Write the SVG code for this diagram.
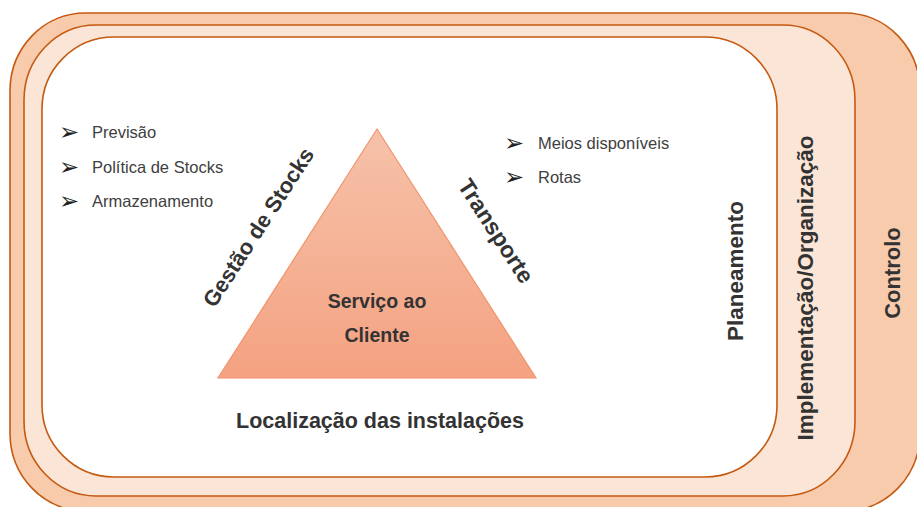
<svg xmlns="http://www.w3.org/2000/svg" width="917" height="507" viewBox="0 0 917 507">
  <defs>
    <linearGradient id="triGrad" x1="0" y1="0" x2="0" y2="1">
      <stop offset="0" stop-color="#F6C2AA"/>
      <stop offset="1" stop-color="#F4A281"/>
    </linearGradient>
    <style>
      .layer { stroke: #C55A11; stroke-width: 1.6; }
      .bold { font-family: "Liberation Sans", Arial, sans-serif; font-weight: bold; fill: #333333; }
      .item { font-family: "Liberation Sans", Arial, sans-serif; font-size: 16.5px; fill: #404040; }
      .bullet { font-family: "DejaVu Sans", sans-serif; font-size: 24px; fill: #222222; }
    </style>
  </defs>

  <g id="controlo">
    <rect class="layer" x="10" y="13" width="910" height="498" rx="75" ry="78" fill="#F8CBAD"/>
    <text class="bold" font-size="22" text-anchor="middle" transform="translate(892,273) rotate(-90)" y="8">Controlo</text>
  </g>

  <g id="implementacao">
    <rect class="layer" x="24" y="25" width="831" height="471" rx="72" ry="75" fill="#FBE5D6"/>
    <text class="bold" font-size="22.5" text-anchor="middle" transform="translate(805,288) rotate(-90)" y="8">Implementação/Organização</text>
  </g>

  <g id="planeamento">
    <rect class="layer" x="42" y="37" width="735" height="440" rx="72" ry="72" fill="#FFFFFF"/>
    <text class="bold" font-size="22.5" text-anchor="middle" transform="translate(735,271) rotate(-90)" y="8">Planeamento</text>
  </g>

  <g id="triangulo">
    <polygon points="377,129 536,378 218,378" fill="url(#triGrad)" stroke="#F0946C" stroke-width="1.2"/>
    <text class="bold" font-size="19.5" text-anchor="middle" x="377" y="308">Serviço ao</text>
    <text class="bold" font-size="19.5" text-anchor="middle" x="377" y="342">Cliente</text>
  </g>

  <g id="gestao-stocks">
    <text class="bold" font-size="22" text-anchor="middle" transform="translate(258,227) rotate(-57)" y="8">Gestão de Stocks</text>
    <text class="bullet" x="59" y="140">➢</text>
    <text class="item" x="92" y="138">Previsão</text>
    <text class="bullet" x="59" y="175">➢</text>
    <text class="item" x="92" y="173">Política de Stocks</text>
    <text class="bullet" x="59" y="209">➢</text>
    <text class="item" x="92" y="207">Armazenamento</text>
  </g>

  <g id="transporte">
    <text class="bold" font-size="23" text-anchor="middle" transform="translate(496,231) rotate(57)" y="8">Transporte</text>
    <text class="bullet" x="504" y="151">➢</text>
    <text class="item" x="538" y="149">Meios disponíveis</text>
    <text class="bullet" x="504" y="185">➢</text>
    <text class="item" x="538" y="183">Rotas</text>
  </g>

  <g id="localizacao">
    <text class="bold" font-size="21.5" text-anchor="middle" x="380" y="428">Localização das instalações</text>
  </g>
</svg>
